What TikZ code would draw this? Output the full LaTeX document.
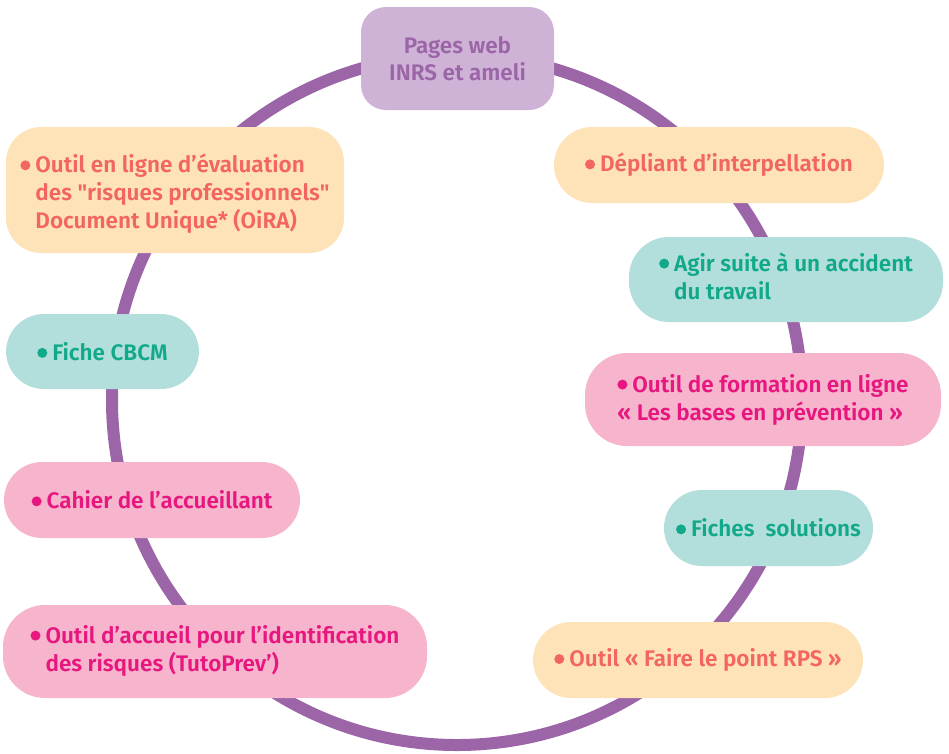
\documentclass[tikz,border=0pt]{standalone}
\usepackage{fontspec}
\setmainfont{Fira Sans}[BoldFont={Fira Sans SemiBold}]
\definecolor{ringc}{HTML}{9B65A8}
\definecolor{lilacf}{HTML}{CFB3D6}
\definecolor{lilact}{HTML}{9B65A8}
\definecolor{peachf}{HTML}{FEE3B9}
\definecolor{coral}{HTML}{F2665F}
\definecolor{tealf}{HTML}{B2DFDC}
\definecolor{tealt}{HTML}{12A98A}
\definecolor{pinkf}{HTML}{F6B5CD}
\definecolor{magent}{HTML}{E8177F}
\newcommand\dotmark[1]{\tikz[x=1pt,y=1pt,baseline=0pt]\fill[#1] (5,7.5) circle[radius=5pt];}
\newcommand\qq{{\addfontfeature{Ligatures=TeXOff}"}}
\tikzset{
  item/.style={rounded corners=38pt, align=left, inner sep=0pt,
    font=\bfseries\fontsize{22.5}{28}\selectfont},
  lilacbox/.style={item, fill=lilacf, text=lilact, align=center, rounded corners=25pt,
    font=\bfseries\fontsize{22.5}{27}\selectfont},
  peachbox/.style={item, fill=peachf, text=coral},
  tealbox/.style={item, fill=tealf, text=tealt},
  pinkbox/.style={item, fill=pinkf, text=magent},
}
\begin{document}
\begin{tikzpicture}[x=1pt,y=-1pt]
  \useasboundingbox (0,0) rectangle (949,753);
  \coordinate (mid) at (457,400);
  % the ring
  \draw[ringc, line width=12pt] (mid) circle (345pt);

  \node[lilacbox, minimum width=193pt, minimum height=103pt] (pages) at (457.5,58.5)
    {Pages web\\INRS et ameli};

  % right side
  \node[peachbox, minimum width=330pt, minimum height=76pt] (depliant) at (719,165)
    {\dotmark{coral}\hspace{5pt}Dépliant d’interpellation};
  \node[tealbox, minimum width=314pt, minimum height=85pt, rounded corners=40pt] (agir) at (786,279.5)
    {\begin{tabular}{@{}l@{\hspace{5pt}}l@{}}\dotmark{tealt} & Agir suite à un accident\\ & du travail\end{tabular}};
  \node[pinkbox, minimum width=356pt, minimum height=93pt, rounded corners=42pt] (formation) at (763,399.5)
    {\dotmark{magent}\hspace{5pt}Outil de formation en ligne\\« Les bases en prévention »};
  \node[tealbox, minimum width=209pt, minimum height=76pt] (fiches) at (768.5,528)
    {\dotmark{tealt}\hspace{5pt}Fiches~~solutions};
  \node[peachbox, minimum width=330pt, minimum height=76pt] (rps) at (698,660)
    {\dotmark{coral}\hspace{5pt}Outil « Faire le point RPS »};

  % left side
  \node[peachbox, minimum width=338pt, minimum height=126pt, rounded corners=35pt] (oira) at (175,190)
    {\begin{tabular}{@{}l@{\hspace{5pt}}l@{}}\rule{0pt}{30pt}\dotmark{coral} & Outil en ligne d’évaluation\\ & des \qq risques professionnels\qq\\ & Document Unique* (OiRA)\end{tabular}};
  \node[tealbox, minimum width=193pt, minimum height=75pt] (cbcm) at (102.5,351.5)
    {\dotmark{tealt}\hspace{5pt}Fiche CBCM};
  \node[pinkbox, minimum width=296pt, minimum height=76pt] (cahier) at (152,500)
    {\dotmark{magent}\hspace{5pt}Cahier de l’accueillant};
  \node[pinkbox, minimum width=424pt, minimum height=93pt, rounded corners=42pt] (tutoprev) at (215,651.5)
    {\begin{tabular}{@{}l@{\hspace{5pt}}l@{}}\dotmark{magent} & Outil d’accueil pour l’identification\\ & des risques (TutoPrev’)\end{tabular}};
\end{tikzpicture}
\end{document}
